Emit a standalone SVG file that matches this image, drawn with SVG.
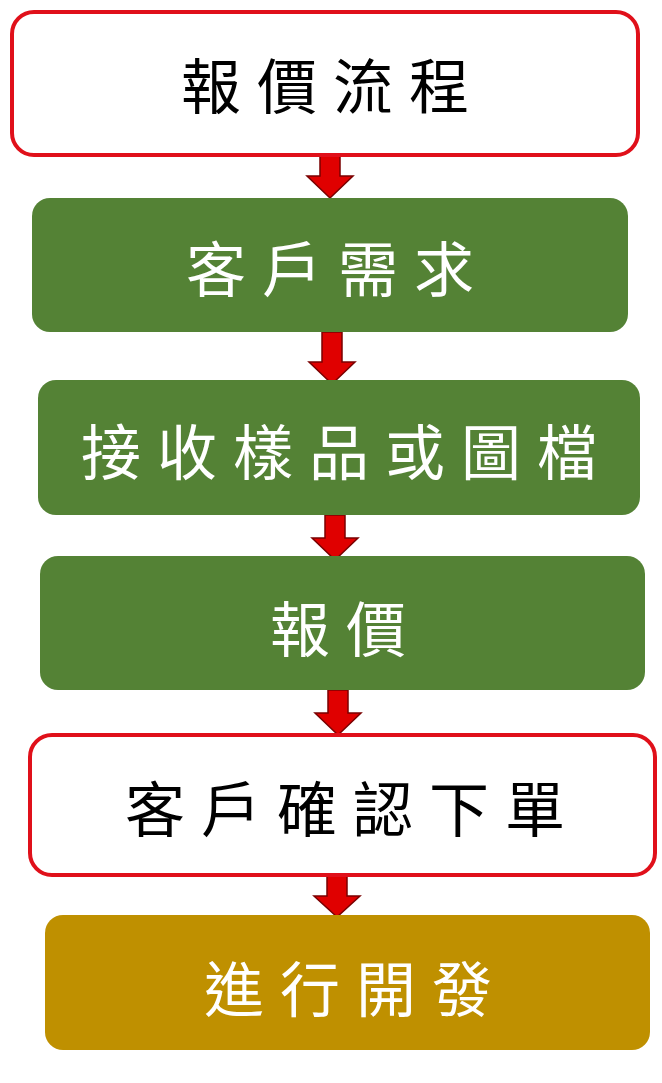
<svg xmlns="http://www.w3.org/2000/svg" width="662" height="1083" viewBox="0 0 662 1083">
<style>
.w{fill:#fff;stroke:#e0101a;stroke-width:4}
.g{fill:#548235}
.o{fill:#bf9000}
text{font-family:"Noto Sans CJK TC","Noto Sans CJK SC",sans-serif;font-size:60px;text-anchor:middle;dominant-baseline:central;letter-spacing:16px}
.tw{fill:#fff}
.tb{fill:#000}
.a{fill:#e00000;stroke:#7a0000;stroke-width:1.5}
</style>
<rect width="662" height="1083" fill="#fff"/>
<g id="connectors">
<path class="a" d="M320 155H340V176H353L330 198L307 176H320Z"/>
<path class="a" d="M322 332H342V362H355L332 384L309 362H322Z"/>
<path class="a" d="M325 515H345V538H358L335 560L312 538H325Z"/>
<path class="a" d="M328 690H348V713H361L338 735L315 713H328Z"/>
<path class="a" d="M327 875H347V896H360L337 917L314 896H327Z"/>
</g>
<g id="n1"><rect class="w" x="12" y="12" width="626" height="143" rx="22"/><text class="tb" x="333" y="82" font-size="70">報價流程</text></g>
<g id="n2"><rect class="g" x="32" y="198" width="596" height="134" rx="18"/><text class="tw" x="338" y="265">客戶需求</text></g>
<g id="n3"><rect class="g" x="38" y="380" width="602" height="135" rx="18"/><text class="tw" x="347" y="448">接收樣品或圖檔</text></g>
<g id="n4"><rect class="g" x="40" y="556" width="605" height="134" rx="18"/><text class="tw" x="346" y="625">報價</text></g>
<g id="n5"><rect class="w" x="30" y="735" width="625" height="140" rx="22"/><text class="tb" x="353" y="805">客戶確認下單</text></g>
<g id="n6"><rect class="o" x="45" y="915" width="605" height="135" rx="18"/><text class="tw" x="356" y="985">進行開發</text></g>
</svg>
